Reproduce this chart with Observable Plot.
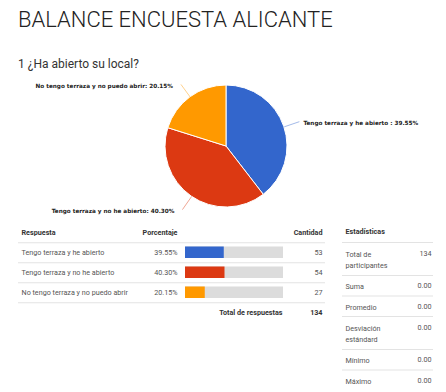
<!DOCTYPE html>
<html><head><meta charset="utf-8">
<script src="https://cdn.jsdelivr.net/npm/d3@7"></script>
<script src="https://cdn.jsdelivr.net/npm/@observablehq/plot@0.6"></script>
<style>
body{margin:0;background:#fff;}
#wrap{position:relative;width:446px;height:392px;overflow:hidden;font-family:Roboto,sans-serif;}
.t{position:absolute;white-space:nowrap;}
#title{left:18px;top:9px;font-size:22px;line-height:22px;font-weight:300;color:#222;}
#sub{left:18px;top:58px;font-size:12px;line-height:12px;color:#333;}
#pie{position:absolute;left:0;top:78px;}
#tbl{position:absolute;left:0;top:220px;}
#stats{position:absolute;left:335px;top:220px;}
svg{display:block;}
</style></head><body>
<div id="wrap">
<div id="title" class="t">BALANCE ENCUESTA ALICANTE</div>
<div id="sub" class="t">1 ¿Ha abierto su local?</div>
<div id="pie"></div><div id="tbl"></div><div id="stats"></div>
</div>
<script>
const answers = ["Tengo terraza y he abierto", "Tengo terraza y no he abierto", "No tengo terraza y no puedo abrir"];
const pieLabels = ["Tengo terraza y he abierto ", "Tengo terraza y no he abierto", "No tengo terraza y no puedo abrir"];
const percents = [39.55, 40.30, 20.15];
const counts = [53, 54, 27];
const colors = ["#3366cc", "#dc3912", "#ff9900"];
const headers = ["Respuesta", "Porcentaje", "Cantidad"];
const totalLabel = "Total de respuestas";
const totalResponses = 134;
const statsTitle = "Estadísticas";
const statNames = ["Total de\nparticipantes", "Suma", "Promedio", "Desviación\nestándard", "Mínimo", "Máximo"];
const statValues = ["134", "0.00", "0.00", "0.00", "0.00", "0.00"];

const rows = answers.map((a, i) => ({answer: a, label: pieLabels[i], pct: percents[i], count: counts[i], color: colors[i]}));

// ---------- Pie ----------
const cx = 226, cy = 68, R = 61;
const arcs = d3.pie().value(d => d.pct).sort(null)(rows);
const labelData = arcs.map(a => {
  const m = (a.startAngle + a.endAngle) / 2;
  const sx = Math.sin(m), sy = -Math.cos(m);
  const right = sx > 0;
  return {
    ...a.data,
    x1: cx + R * sx, y1: cy + R * sy,
    x2: cx + (R + 16) * sx, y2: cy + (R + 16) * sy,
    tx: cx + (R + 16) * sx + (right ? 4 : -8),
    ty: cy + (R + 16) * sy + 1.5,
    anchor: right ? "start" : "end",
    text: a.data.label + ": " + a.data.pct.toFixed(2) + "%"
  };
});
const pieMark = () => {
  const g = d3.create("svg:g");
  const arc = d3.arc().innerRadius(0).outerRadius(R);
  g.selectAll("path").data(arcs).join("path")
    .attr("transform", `translate(${cx},${cy})`)
    .attr("d", arc)
    .attr("fill", d => d.data.color)
    .attr("stroke", "#fff")
    .attr("stroke-width", 1);
  return g.node();
};
const labelStyle = {fill: "#222", fontWeight: "bold", fontSize: 5.7, fontFamily: "DejaVu Sans"};
document.getElementById("pie").append(Plot.plot({
  width: 446, height: 140, margin: 0,
  x: {type: "identity", axis: null}, y: {type: "identity", axis: null},
  color: {type: "identity"},
  marks: [
    pieMark,
    Plot.link(labelData, {x1: "x1", y1: "y1", x2: "x2", y2: "y2", stroke: "color", strokeOpacity: 0.45, strokeWidth: 1}),
    Plot.text(labelData.filter(d => d.anchor === "start"), {x: "tx", y: "ty", text: "text", textAnchor: "start", ...labelStyle}),
    Plot.text(labelData.filter(d => d.anchor === "end"), {x: "tx", y: "ty", text: "text", textAnchor: "end", ...labelStyle})
  ]
}));

// ---------- Response table ----------
const tableRows = ["__h", ...answers, "__t"];
const band = 20.5;
document.getElementById("tbl").append(Plot.plot({
  width: 335, height: 110, marginLeft: 18, marginRight: 10, marginTop: 0, marginBottom: 0,
  x: {domain: [0, 100], range: [185, 283], axis: null},
  y: {type: "band", domain: tableRows, range: [1, 1 + band * tableRows.length], padding: 0, axis: null},
  color: {type: "identity"},
  style: {fontFamily: "Roboto", fontSize: "7.2px", color: "#555", background: "transparent"},
  marks: [
    Plot.ruleY(["__h", ...answers], {dy: band / 2, stroke: "#e3e3e3"}),
    Plot.barX(rows, {x: () => 100, y: "answer", fill: "#dcdcdc", insetTop: 4.5, insetBottom: 4}),
    Plot.barX(rows, {x: "pct", y: "answer", fill: "color", insetTop: 4.5, insetBottom: 4}),
    Plot.text(rows, {y: "answer", text: "answer", frameAnchor: "left", dx: 3, textAnchor: "start", fill: "#555"}),
    Plot.text(rows, {y: "answer", text: d => d.pct.toFixed(2) + "%", frameAnchor: "left", dx: 159, textAnchor: "end", fill: "#555"}),
    Plot.text(rows, {y: "answer", text: "count", frameAnchor: "right", dx: -3, textAnchor: "end", fill: "#555"}),
    Plot.text([headers[0]], {y: () => "__h", text: d => d, frameAnchor: "left", dx: 3, textAnchor: "start", fontWeight: "bold", fill: "#333"}),
    Plot.text([headers[1]], {y: () => "__h", text: d => d, frameAnchor: "left", dx: 159, textAnchor: "end", fontWeight: "bold", fill: "#333"}),
    Plot.text([headers[2]], {y: () => "__h", text: d => d, frameAnchor: "right", dx: -3, textAnchor: "end", fontWeight: "bold", fill: "#333"}),
    Plot.text([totalLabel], {y: () => "__t", text: d => d, frameAnchor: "right", dx: -43, textAnchor: "end", fontWeight: "bold", fill: "#333"}),
    Plot.text([totalResponses], {y: () => "__t", text: d => d, frameAnchor: "right", dx: -3, textAnchor: "end", fontWeight: "bold", fill: "#333"})
  ]
}));

// ---------- Statistics ----------
const lineH = 11.5;
let yTop = 22;
const statRows = statNames.map((n, i) => {
  const lines = n.split("\n").length;
  const h = 8 + 12.5 * lines;
  const r = {name: n, value: statValues[i], top: yTop, bottom: yTop + h, lines,
             mid: yTop + h / 2, vy: yTop + h / 2 - (lines - 1) * lineH / 2};
  yTop += h;
  return r;
});
const ruleYs = [22, ...statRows.slice(0, -1).map(d => d.bottom)];
document.getElementById("stats").append(Plot.plot({
  width: 111, height: 172, marginLeft: 7, marginRight: 13, marginTop: 0, marginBottom: 0,
  x: {axis: null},
  y: {type: "identity", axis: null},
  style: {fontFamily: "Roboto", fontSize: "7.2px", color: "#555", background: "transparent"},
  marks: [
    Plot.ruleY(ruleYs, {stroke: "#e3e3e3"}),
    Plot.text([statsTitle], {y: () => 11, text: d => d, frameAnchor: "left", dx: 3, textAnchor: "start", fontWeight: "bold", fill: "#333"}),
    Plot.text(statRows, {y: "mid", text: "name", frameAnchor: "left", dx: 3, textAnchor: "start", lineHeight: lineH / 7.2, fill: "#555"}),
    Plot.text(statRows, {y: "vy", text: "value", frameAnchor: "right", dx: -2, textAnchor: "end", fill: "#555"})
  ]
}));
</script>
</body></html>
